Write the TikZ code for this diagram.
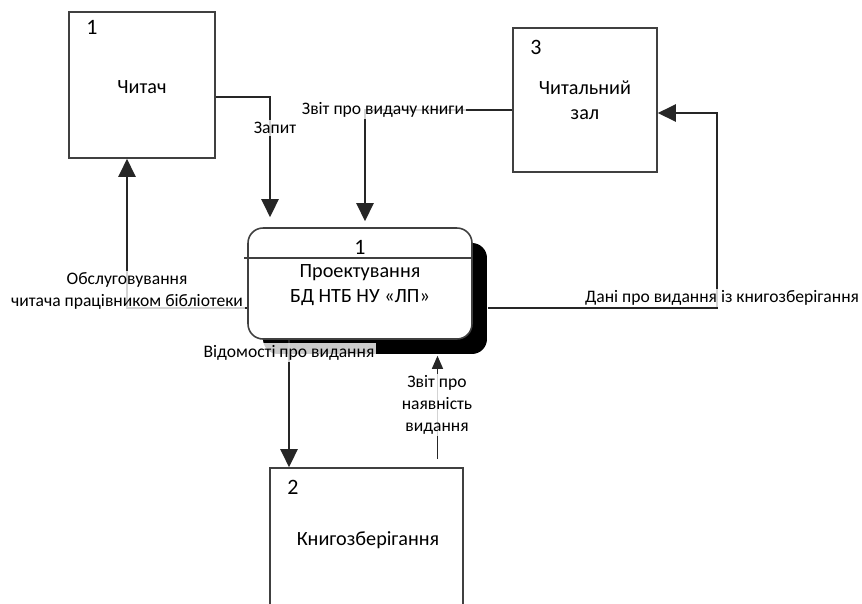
\documentclass[tikz,border=0pt]{standalone}
\usepackage{fontspec}
\setmainfont{Carlito}
\usetikzlibrary{arrows.meta,shadows,positioning}

\tikzset{
  ent/.style={draw=black!75,line width=0.9pt,inner sep=0pt},% external entity / process frame
  num/.style={font=\fontsize{12.5}{14}\selectfont},
  title/.style={font=\fontsize{11.5}{14.5}\selectfont,align=center},
  flow/.style={draw=black!85,line width=1.3pt,-{Triangle[length=0.36cm,width=0.34cm]}},
  thinflow/.style={draw=black!85,line width=0.7pt,-{Triangle[length=0.26cm,width=0.22cm]}},
  lbl/.style={fill=white,fill opacity=0.8,text opacity=1,inner sep=1pt,align=center,
    font=\fontsize{10}{12.5}\selectfont}
}

\begin{document}
\begin{tikzpicture}[x=0.02cm,y=-0.02cm]% 1 unit = 1 px of the sketch
\useasboundingbox (0,0) rectangle (862,603);

% external entities
\node[ent,minimum width=2.92cm,minimum height=2.92cm] (reader) at (142,85) {};
\node[num] (reader-n) at (92,27) {1};
\node[title] (reader-t) at (142,87) {Читач};

\node[ent,minimum width=2.88cm,minimum height=2.88cm] (hall) at (585,100) {};
\node[num] (hall-n) at (536,47) {3};
\node[title] (hall-t) at (585,100) {Читальний\\зал};

\node[ent,minimum width=3.86cm,minimum height=3.04cm] (store) at (366.5,544) {};
\node[num] (store-n) at (293,487) {2};
\node[title] (store-t) at (368,540) {Книгозберігання};

% process
\node[ent,rounded corners=0.3cm,minimum width=4.48cm,minimum height=2.22cm,fill=white,
  drop shadow={shadow xshift=0.3cm,shadow yshift=-0.3cm,fill=black,opacity=1}] (proc) at (360,283.5) {};
\coordinate (div) at (244,258);
\draw[black!75,line width=0.8pt] (div) -- (div -| proc.east);
\node[num] (proc-n) at (360,247) {1};
\node[title] (proc-t) at (360,285) {Проектування\\БД НТБ НУ «ЛП»};

% flows
\draw[flow,shorten >=0.2cm] ([yshift=-0.24cm]reader.east) -| ([xshift=-1.8cm]proc.north);
\node[lbl] (q1) at (275,128) {Запит};

\draw[flow,shorten >=0.12cm] ([yshift=-0.2cm]hall.west) -| ([xshift=0.1cm]proc.north);
\node[lbl] (q2) at (383,110) {Звіт про видачу книги};

\draw[flow] ([yshift=-0.49cm]proc.west) -| ([xshift=-0.3cm]reader.south);
\node[lbl] (q3) at (127,291) {Обслуговування\\читача працівником бібліотеки};

\coordinate (out4) at ([xshift=-1.42cm]proc.south);
\draw[flow] (out4) -- (out4 |- store.north)
  node[lbl,pos=0.1] (q4) {Відомості про видання};

\coordinate (in5) at ([xshift=1.42cm]store.north);
\draw[thinflow,shorten <=0.16cm,shorten >=0.32cm] (in5) -- (in5 |- proc.south);
\node[lbl] (q5) at (437,405) {Звіт про\\наявність\\видання};

\coordinate (dcorner) at (717,113);
\draw[flow] ([xshift=0.3cm,yshift=-0.49cm]proc.east) -| (dcorner) -- (dcorner -| hall.east);
\node[lbl] (q6) at (722,298) {Дані про видання із книгозберігання};

\end{tikzpicture}
\end{document}
